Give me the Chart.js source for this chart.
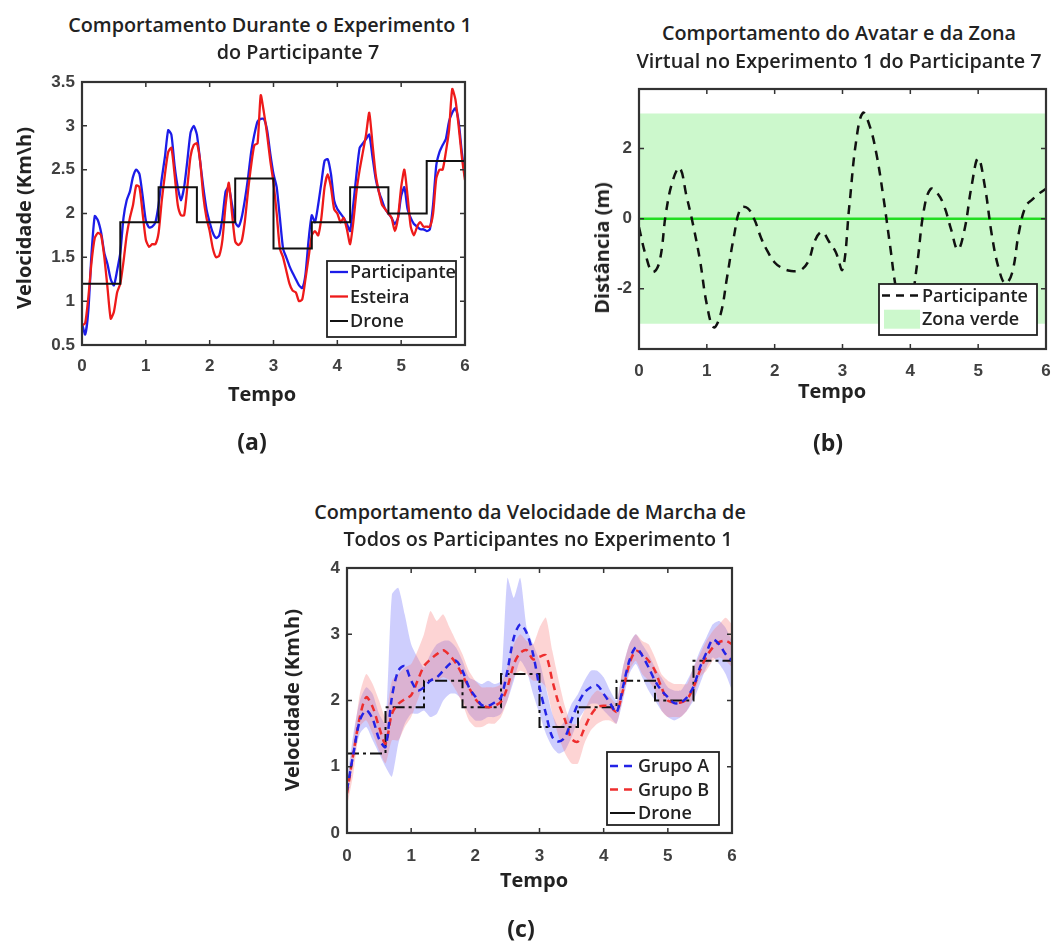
<!DOCTYPE html>
<html>
<head>
<meta charset="utf-8">
<script src="https://cdn.jsdelivr.net/npm/chart.js@4.4.1/dist/chart.umd.min.js"></script>
<style>
  html, body { margin: 0; padding: 0; background: #fff; }
  #page { position: relative; width: 1051px; height: 942px; overflow: hidden; font-family: 'Open Sans', sans-serif; color: #222; }
  canvas { position: absolute; }
  .t { position: absolute; white-space: nowrap; transform: translateX(-50%); font-size: 19.8px; font-weight: 600; line-height: 24px; }
  .ax { position: absolute; white-space: nowrap; transform: translateX(-50%); font-size: 20px; font-weight: 700; line-height: 24px; }
  .ay { position: absolute; white-space: nowrap; transform: translate(-50%, -50%) rotate(-90deg); font-size: 20px; font-weight: 700; line-height: 24px; }
  .lbl { position: absolute; white-space: nowrap; transform: translate(-50%, -50%); font-size: 23px; font-weight: 700; line-height: 23px; }
</style>
</head>
<body>
<div id="page">
  <canvas id="chartA" width="480" height="330" style="left:0px;top:60px;width:480px;height:330px"></canvas>
  <canvas id="chartB" width="491" height="340" style="left:560px;top:60px;width:491px;height:340px"></canvas>
  <canvas id="chartC" width="480" height="330" style="left:270px;top:545px;width:480px;height:330px"></canvas>

  <div class="t" style="left:270px;top:13px">Comportamento Durante o Experimento 1</div>
  <div class="t" style="left:298px;top:40px">do Participante 7</div>
  <div class="ay" style="left:24px;top:218px">Velocidade (Km\h)</div>
  <div class="ax" style="left:262px;top:382px">Tempo</div>
  <div class="lbl" style="left:252px;top:441px">(a)</div>

  <div class="t" style="left:839px;top:21px">Comportamento do Avatar e da Zona</div>
  <div class="t" style="left:839px;top:49px">Virtual no Experimento 1 do Participante 7</div>
  <div class="ay" style="left:602px;top:248px">Distância (m)</div>
  <div class="ax" style="left:832px;top:379px">Tempo</div>
  <div class="lbl" style="left:828px;top:442px">(b)</div>

  <div class="t" style="left:530px;top:500px">Comportamento da Velocidade de Marcha de</div>
  <div class="t" style="left:538px;top:527px">Todos os Participantes no Experimento 1</div>
  <div class="ay" style="left:292px;top:700px">Velocidade (Km\h)</div>
  <div class="ax" style="left:534px;top:868px">Tempo</div>
  <div class="lbl" style="left:521px;top:928px">(c)</div>
</div>
<script>
// ---- tick labels ----
const xTicks = [0, 1, 2, 3, 4, 5, 6];
const yTicksA = [0.5, 1, 1.5, 2, 2.5, 3, 3.5];
const yTicksB = [-2, 0, 2];
const yTicksC = [0, 1, 2, 3, 4];

// ---- drone (step) ----
const droneT = [0, 0.6, 1.2, 1.8, 2.4, 3.0, 3.6, 4.2, 4.8, 5.4, 6.0];
const droneV = [1.2, 1.9, 2.3, 1.9, 2.4, 1.6, 1.9, 2.3, 2.0, 2.6, 2.6];

// ---- (a) participante 7, sampled every 0.05 ----
const tempoA = [
  0, 0.05, 0.1, 0.15, 0.2, 0.25, 0.3, 0.35, 0.4, 0.45,
  0.5, 0.55, 0.6, 0.65, 0.7, 0.75, 0.8, 0.85, 0.9, 0.95,
  1, 1.05, 1.1, 1.15, 1.2, 1.25, 1.3, 1.35, 1.4, 1.45,
  1.5, 1.55, 1.6, 1.65, 1.7, 1.75, 1.8, 1.85, 1.9, 1.95,
  2, 2.05, 2.1, 2.15, 2.2, 2.25, 2.3, 2.35, 2.4, 2.45,
  2.5, 2.55, 2.6, 2.65, 2.7, 2.75, 2.8, 2.85, 2.9, 2.95,
  3, 3.05, 3.1, 3.15, 3.2, 3.25, 3.3, 3.35, 3.4, 3.45,
  3.5, 3.55, 3.6, 3.65, 3.7, 3.75, 3.8, 3.85, 3.9, 3.95,
  4, 4.05, 4.1, 4.15, 4.2, 4.25, 4.3, 4.35, 4.4, 4.45,
  4.5, 4.55, 4.6, 4.65, 4.7, 4.75, 4.8, 4.85, 4.9, 4.95,
  5, 5.05, 5.1, 5.15, 5.2, 5.25, 5.3, 5.35, 5.4, 5.45,
  5.5, 5.55, 5.6, 5.65, 5.7, 5.75, 5.8, 5.85, 5.9, 5.95,
  6
];
const participante = [
  0.75, 0.62, 0.90, 1.55, 1.97, 1.92, 1.78, 1.55, 1.42, 1.25,
  1.18, 1.35, 1.55, 1.95, 2.15, 2.25, 2.42, 2.50, 2.45, 2.20,
  1.92, 1.84, 1.85, 1.90, 2.10, 2.40, 2.65, 2.95, 2.90, 2.55,
  2.30, 2.15, 2.30, 2.60, 2.92, 3.00, 2.90, 2.60, 2.30, 2.05,
  1.90, 1.78, 1.72, 1.75, 1.95, 2.25, 2.30, 2.10, 1.90, 1.85,
  1.95, 2.15, 2.40, 2.70, 2.90, 3.05, 3.08, 3.08, 2.95, 2.68,
  2.45, 2.30, 1.95, 1.60, 1.50, 1.40, 1.32, 1.25, 1.18, 1.15,
  1.30, 1.70, 1.98, 1.90, 2.10, 2.35, 2.60, 2.62, 2.45, 2.15,
  2.05, 2.00, 1.95, 1.88, 1.80, 2.10, 2.45, 2.75, 2.80, 2.85,
  2.90, 2.65, 2.40, 2.25, 2.15, 2.05, 2.00, 1.95, 1.88, 1.95,
  2.20, 2.30, 2.05, 1.95, 1.88, 1.85, 1.82, 1.82, 1.80, 1.82,
  2.10, 2.55, 2.70, 2.78, 2.85, 3.05, 3.15, 3.20, 3.05, 2.70,
  2.42
];
const esteira = [
  0.72, 0.75, 1.05, 1.45, 1.72, 1.78, 1.75, 1.50, 1.15, 0.80,
  0.88, 1.10, 1.20, 1.45, 1.75, 1.95, 2.10, 2.32, 2.30, 2.00,
  1.70, 1.62, 1.65, 1.65, 1.78, 2.15, 2.45, 2.70, 2.75, 2.45,
  2.10, 1.98, 1.98, 2.30, 2.65, 2.78, 2.80, 2.60, 2.20, 1.95,
  1.80, 1.60, 1.50, 1.52, 1.70, 2.10, 2.35, 2.00, 1.68, 1.64,
  1.68, 1.90, 2.25, 2.55, 2.78, 2.80, 3.35, 3.15, 2.90, 2.60,
  2.35, 2.00, 1.60, 1.50, 1.35, 1.20, 1.12, 1.10, 1.00, 1.02,
  1.25, 1.50, 1.75, 1.80, 1.75, 1.95, 2.30, 2.45, 2.30, 2.05,
  2.00, 1.90, 1.95, 1.82, 1.65, 1.90, 2.25, 2.50, 2.70, 2.90,
  3.15, 2.80, 2.45, 2.25, 2.10, 2.05, 2.00, 1.95, 1.80, 1.95,
  2.30, 2.50, 2.20, 1.85, 1.75, 1.85, 1.90, 1.85, 1.85, 1.85,
  2.00, 2.40, 2.50, 2.50, 2.70, 2.95, 3.42, 3.30, 3.00, 2.65,
  2.38
];

// ---- (b) and (c), sampled every 0.1 ----
const tempoB = [
  0, 0.1, 0.2, 0.3, 0.4, 0.5, 0.6, 0.7, 0.8, 0.9,
  1, 1.1, 1.2, 1.3, 1.4, 1.5, 1.6, 1.7, 1.8, 1.9,
  2, 2.1, 2.2, 2.3, 2.4, 2.5, 2.6, 2.7, 2.8, 2.9,
  3, 3.1, 3.2, 3.3, 3.4, 3.5, 3.6, 3.7, 3.8, 3.9,
  4, 4.1, 4.2, 4.3, 4.4, 4.5, 4.6, 4.7, 4.8, 4.9,
  5, 5.1, 5.2, 5.3, 5.4, 5.5, 5.6, 5.7, 5.8, 5.9,
  6
];
const distancia = [
  -0.25, -1.05, -1.52, -1.25, 0.20, 1.10, 1.45, 0.65, -0.20, -1.20,
  -2.45, -3.10, -2.75, -1.65, -0.50, 0.30, 0.30, -0.02, -0.55, -0.95,
  -1.25, -1.40, -1.48, -1.50, -1.45, -1.20, -0.60, -0.38, -0.65, -0.95,
  -1.45, 0.35, 2.20, 3.02, 2.65, 1.85, 0.65, -0.75, -2.10, -2.70,
  -2.45, -1.30, 0.25, 0.85, 0.72, 0.35, -0.30, -0.88, -0.30, 0.90,
  1.72, 0.90, -0.45, -1.40, -1.85, -1.55, -0.40, 0.35, 0.55, 0.72,
  0.85
];
const zonaLimite = 3;

const grupoA = [
  0.65, 1.20, 1.70, 1.85, 1.72, 1.42, 1.30, 2.05, 2.45, 2.52,
  2.30, 2.15, 2.20, 2.30, 2.35, 2.45, 2.55, 2.60, 2.45, 2.20,
  2.06, 1.93, 1.92, 1.97, 2.05, 2.45, 2.95, 3.15, 3.02, 2.70,
  2.20, 1.80, 1.45, 1.38, 1.45, 1.71, 1.95, 2.12, 2.20, 2.23,
  2.10, 1.96, 1.82, 2.20, 2.60, 2.80, 2.68, 2.50, 2.30, 2.15,
  2.05, 1.96, 1.97, 2.05, 2.21, 2.50, 2.72, 2.92, 2.85, 2.70,
  2.60
];
const grupoAMax = [
  0.80, 1.50, 2.00, 2.20, 2.10, 1.80, 1.65, 3.60, 3.70, 3.30,
  2.85, 2.65, 2.50, 2.70, 2.85, 2.90, 2.90, 2.80, 2.60, 2.35,
  2.30, 2.25, 2.30, 2.25, 2.30, 3.85, 3.55, 3.85, 3.10, 2.85,
  2.60, 2.20, 1.80, 1.60, 1.70, 1.95, 2.10, 2.30, 2.45, 2.45,
  2.35, 2.15, 2.00, 2.50, 2.85, 3.00, 2.85, 2.70, 2.50, 2.35,
  2.20, 2.15, 2.15, 2.30, 2.50, 2.75, 2.95, 3.15, 3.20, 3.10,
  2.90
];
const grupoAMin = [
  0.50, 1.10, 1.50, 1.60, 1.40, 1.20, 1.00, 0.85, 1.35, 1.65,
  1.80, 1.80, 1.85, 1.75, 1.80, 2.00, 2.10, 2.10, 2.00, 1.80,
  1.70, 1.70, 1.75, 1.75, 1.80, 2.00, 2.30, 2.60, 2.45, 2.10,
  1.80, 1.50, 1.30, 1.20, 1.25, 1.45, 1.70, 1.85, 1.95, 1.95,
  1.85, 1.75, 1.65, 2.00, 2.40, 2.55, 2.35, 2.15, 2.00, 1.85,
  1.75, 1.70, 1.75, 1.85, 2.00, 2.25, 2.50, 2.65, 2.55, 2.40,
  2.15
];
const grupoB = [
  0.60, 1.20, 1.75, 2.05, 1.90, 1.60, 1.35, 1.80, 1.95, 2.02,
  2.08, 2.30, 2.52, 2.62, 2.70, 2.76, 2.68, 2.56, 2.38, 2.20,
  2.02, 1.93, 1.90, 1.92, 1.98, 2.20, 2.55, 2.72, 2.76, 2.62,
  2.66, 2.68, 2.30, 1.95, 1.70, 1.42, 1.38, 1.58, 1.78, 1.90,
  1.92, 1.91, 1.83, 2.15, 2.55, 2.75, 2.70, 2.60, 2.45, 2.20,
  2.00, 1.97, 1.97, 2.02, 2.20, 2.45, 2.66, 2.80, 2.88, 2.90,
  2.85
];
const grupoBMax = [
  0.70, 1.40, 2.10, 2.40, 2.25, 2.00, 1.75, 2.30, 2.40, 2.50,
  2.55, 2.75, 3.00, 3.35, 3.20, 3.30, 3.10, 2.90, 2.70, 2.45,
  2.30, 2.20, 2.20, 2.20, 2.25, 2.50, 2.85, 3.00, 2.90, 2.85,
  3.10, 3.25, 2.75, 2.30, 1.90, 1.65, 1.65, 1.85, 2.05, 2.15,
  2.10, 2.05, 1.95, 2.50, 2.85, 3.00, 2.90, 2.85, 2.65, 2.40,
  2.30, 2.25, 2.25, 2.25, 2.50, 2.70, 2.90, 3.05, 3.15, 3.25,
  3.15
];
const grupoBMin = [
  0.40, 0.90, 1.60, 1.70, 1.50, 1.25, 1.05, 1.40, 1.40, 1.60,
  1.75, 2.00, 2.25, 2.30, 2.30, 2.35, 2.30, 2.15, 1.95, 1.70,
  1.60, 1.60, 1.65, 1.65, 1.75, 2.00, 2.35, 2.45, 2.40, 2.30,
  2.30, 2.20, 1.80, 1.45, 1.20, 1.05, 1.05, 1.35, 1.55, 1.65,
  1.70, 1.70, 1.65, 2.05, 2.45, 2.60, 2.40, 2.30, 2.15, 1.85,
  1.75, 1.75, 1.75, 1.85, 2.05, 2.35, 2.45, 2.60, 2.65, 2.60,
  2.50
];

const pts = (xs, ys) => xs.map((x, i) => ({ x, y: ys[i] }));

// MATLAB-like box with inward ticks on all four sides
const frame = {
  id: 'frame',
  afterDatasetsDraw: (chart) => {
    const { ctx, chartArea: a, scales: { x, y } } = chart;
    ctx.save();
    ctx.strokeStyle = '#333';
    ctx.lineWidth = 1.5;
    ctx.beginPath();
    x.ticks.forEach(t => {
      const px = x.getPixelForValue(t.value);
      ctx.moveTo(px, a.bottom); ctx.lineTo(px, a.bottom - 5);
      ctx.moveTo(px, a.top); ctx.lineTo(px, a.top + 5);
    });
    y.ticks.forEach(t => {
      const py = y.getPixelForValue(t.value);
      ctx.moveTo(a.left, py); ctx.lineTo(a.left + 5, py);
      ctx.moveTo(a.right, py); ctx.lineTo(a.right - 5, py);
    });
    ctx.stroke();
    ctx.lineWidth = 2.2;
    ctx.strokeRect(a.left, a.top, a.right - a.left, a.bottom - a.top);
    ctx.restore();
  }
};

// boxed legend drawn inside the plot
const boxLegend = {
  id: 'boxLegend',
  afterDraw: (chart, args, o) => {
    const { ctx } = chart;
    const items = chart.data.datasets.filter(d => d.label && !d.noLegend);
    ctx.save();
    ctx.fillStyle = '#fff';
    ctx.fillRect(o.x, o.y, o.w, o.h);
    ctx.strokeStyle = '#222';
    ctx.lineWidth = 1.8;
    ctx.strokeRect(o.x, o.y, o.w, o.h);
    ctx.font = '600 18px "Open Sans"';
    ctx.textBaseline = 'middle';
    items.forEach((d, i) => {
      const cy = o.y + o.first + o.rowH * i;
      if (d.fill) {
        ctx.fillStyle = d.backgroundColor;
        ctx.fillRect(o.x + o.s0 + 2, cy - 9, o.s1 - o.s0 - 1, 19);
      } else {
        ctx.strokeStyle = d.borderColor;
        ctx.lineWidth = d.borderWidth;
        ctx.setLineDash(d.legendDash || d.borderDash || []);
        ctx.beginPath();
        ctx.moveTo(o.x + o.s0, cy);
        ctx.lineTo(o.x + o.s1, cy);
        ctx.stroke();
        ctx.setLineDash([]);
      }
      ctx.fillStyle = '#222';
      ctx.fillText(d.label, o.x + o.tx, cy + 1);
    });
    ctx.restore();
  }
};

const tickFont = { family: "'Liberation Sans', Arial, sans-serif", size: 17, weight: 'bold' };

const makeScales = (ymin, ymax, yTicks, yWidth, xHeight, xPad) => ({
  x: {
    type: 'linear', min: 0, max: 6,
    grid: { display: false, drawTicks: false }, border: { display: false },
    ticks: { font: tickFont, color: '#404040', padding: xPad, maxRotation: 0, callback: v => String(v) },
    afterBuildTicks: s => { s.ticks = xTicks.map(v => ({ value: v })); },
    afterFit: s => { s.height = xHeight; s.paddingLeft = 0; s.paddingRight = 0; }
  },
  y: {
    type: 'linear', min: ymin, max: ymax,
    grid: { display: false, drawTicks: false }, border: { display: false },
    ticks: { font: tickFont, color: '#404040', padding: 7, callback: v => String(v) },
    afterBuildTicks: s => { s.ticks = yTicks.map(v => ({ value: v })); },
    afterFit: s => { s.width = yWidth; }
  }
});

const baseOptions = (padding, scales, legend) => ({
  responsive: false,
  animation: false,
  events: [],
  layout: { padding },
  elements: { point: { radius: 0 } },
  scales,
  plugins: { legend: { display: false }, tooltip: { enabled: false }, boxLegend: legend }
});

// (a)
new Chart(document.getElementById('chartA'), {
  type: 'line',
  data: {
    datasets: [
      { label: 'Participante', data: pts(tempoA, participante), borderColor: '#1c1ce8', borderWidth: 2.3, tension: 0.2, order: 2 },
      { label: 'Esteira', data: pts(tempoA, esteira), borderColor: '#ee1a1a', borderWidth: 2.3, tension: 0.2, order: 1 },
      { label: 'Drone', data: pts(droneT, droneV), borderColor: '#111', borderWidth: 2, stepped: 'before', order: 0 }
    ]
  },
  options: baseOptions({ top: 22, right: 15, bottom: 11, left: 0 },
    makeScales(0.5, 3.5, yTicksA, 82, 34, 11),
    { x: 327, y: 201, w: 129, h: 76, first: 11, rowH: 24.5, s0: 3, s1: 21, tx: 23 }),
  plugins: [frame, boxLegend]
});

// (b)
new Chart(document.getElementById('chartB'), {
  type: 'line',
  data: {
    datasets: [
      { label: 'Participante', data: pts(tempoB, distancia), borderColor: '#111', borderWidth: 2.5, borderDash: [9, 7], legendDash: [8, 6], tension: 0.4, order: 0 },
      { label: '', data: pts([0, 6], [0, 0]), borderColor: '#22dd22', borderWidth: 2.5, noLegend: true, order: 1 },
      { label: 'Zona verde', data: pts([0, 6], [zonaLimite, zonaLimite]), borderWidth: 0, borderColor: 'rgba(0,0,0,0)', backgroundColor: '#ccf8cc', fill: { value: -zonaLimite }, order: 2 }
    ]
  },
  options: baseOptions({ top: 29, right: 5, bottom: 17, left: 0 },
    makeScales(-3.72, 3.7, yTicksB, 79, 34, 12),
    { x: 319, y: 224, w: 158, h: 51, first: 11.5, rowH: 23.2, s0: 3, s1: 40, tx: 43 }),
  plugins: [frame, boxLegend]
});

// (c)
new Chart(document.getElementById('chartC'), {
  type: 'line',
  data: {
    datasets: [
      { label: 'Grupo A', data: pts(tempoB, grupoA), borderColor: '#2323e6', borderWidth: 2.5, borderDash: [7, 5], legendDash: [8, 6], tension: 0.3, order: 0 },
      { label: 'Grupo B', data: pts(tempoB, grupoB), borderColor: '#ee2e2e', borderWidth: 2.5, borderDash: [7, 5], legendDash: [8, 6], tension: 0.3, order: 1 },
      { label: 'Drone', data: pts(droneT, droneV), borderColor: '#111', borderWidth: 2, borderDash: [12, 4, 3, 4], legendDash: [], stepped: 'before', order: 2 },
      { data: pts(tempoB, grupoAMax), borderWidth: 0, backgroundColor: 'rgba(110,110,250,0.34)', fill: '+1', tension: 0.2, order: 4 },
      { data: pts(tempoB, grupoAMin), borderWidth: 0, tension: 0.2, order: 5 },
      { data: pts(tempoB, grupoBMax), borderWidth: 0, backgroundColor: 'rgba(250,120,120,0.32)', fill: '+1', tension: 0.2, order: 3 },
      { data: pts(tempoB, grupoBMin), borderWidth: 0, tension: 0.2, order: 6 }
    ]
  },
  options: baseOptions({ top: 23, right: 18, bottom: 8, left: 0 },
    makeScales(0, 4, yTicksC, 77, 34, 13),
    { x: 337, y: 207, w: 112, h: 73, first: 14, rowH: 23.5, s0: 3, s1: 28, tx: 31 }),
  plugins: [frame, boxLegend]
});
</script>
</body>
</html>
